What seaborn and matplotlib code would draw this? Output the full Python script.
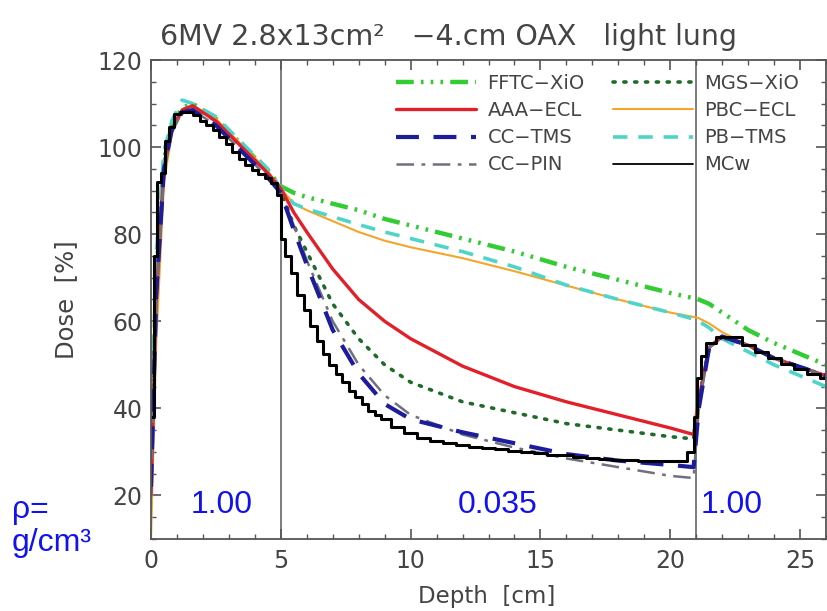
import matplotlib
matplotlib.use("Agg")
import matplotlib.pyplot as plt
import seaborn as sns
import numpy as np

# ---------------- data ----------------
depth = [0, 0.2, 0.5, 0.8, 1.2, 1.6, 2.5, 3.5, 4.5, 5.0, 5.5, 6, 7, 8, 9, 10,
         12, 14, 16, 18, 20, 20.9, 21.1, 21.5, 22, 23, 24, 25, 26]

fftc_xio = [28, 70, 97, 105, 109, 110, 106.5, 100.5, 94.5, 91, 89.5, 88.5, 87, 85.5, 83.5, 82,
            79, 76, 72.5, 69.5, 66.5, 65.3, 65, 64, 62, 58, 55, 52.5, 50]
mgs_xio = [25, 68, 96, 104, 108.5, 109.5, 106, 100, 94, 90, 82, 76, 64, 56, 50, 46,
           41.5, 39, 36.5, 35, 33.5, 33, 42, 54, 56.5, 54.5, 51.5, 49.5, 47.5]
aaa_ecl = [20, 65, 95, 104, 108.5, 109.5, 106, 100, 94, 90.5, 85, 80.5, 72, 65, 60, 56,
           49.7, 45, 41.5, 38.5, 35.5, 34, 42, 54, 56.5, 54.5, 51.5, 49.5, 47.5]
pbc_ecl = [10, 55, 92, 103, 108.5, 109.6, 106.5, 100.5, 94.5, 90.5, 87, 85.5, 83, 80.5, 78.5, 77,
           74.5, 71.5, 68.2, 65, 62, 61, 60.7, 59.5, 57.5, 54.5, 51.5, 49.5, 47.3]
cc_tms = [22, 66, 95, 104, 108, 108.5, 105, 99, 93, 89.5, 81, 73, 58, 48, 41, 37.5,
          34.5, 32, 29.5, 28, 27, 26.5, 40, 54, 56.5, 54.5, 51.5, 49.5, 47.5]
pb_tms = [30, 75, 99, 106, 110.8, 110, 107, 101, 95, 90.5, 87, 85.8, 84, 82.2, 80.5, 79,
          76, 72.5, 68.3, 65, 62, 60.5, 60, 58.5, 56, 53, 50, 47.5, 45]
cc_pin = [20, 64, 94, 103.5, 108, 108.5, 105, 99, 93, 89.5, 82, 74, 60, 50, 43, 38.5,
          34, 31, 28.5, 26.5, 24.5, 24, 40, 54, 56, 54.5, 51.5, 49.5, 47.5]

mcw_depth = [0.05, 0.15, 0.3, 0.45, 0.6, 0.8, 1.0, 1.25, 1.5, 1.75, 2.0, 2.25, 2.5, 2.75,
             3.0, 3.25, 3.5, 3.75, 4.0, 4.25, 4.5, 4.75, 4.95,
             5.05, 5.25, 5.5, 5.75, 6.0, 6.25, 6.5, 6.75, 7.0, 7.25, 7.5, 7.75, 8.0, 8.25,
             8.5, 8.75, 9.0, 9.5, 10, 10.5, 11, 11.5, 12, 12.5, 13, 13.5, 14, 14.5, 15,
             15.5, 16, 16.5, 17, 17.5, 18, 18.5, 19, 19.5, 20, 20.5, 20.8, 21.0, 21.1,
             21.25, 21.5, 22, 22.5, 23, 23.5, 24, 24.5, 25, 25.5, 26]
mcw_dose = [38, 75, 92, 94, 101.5, 104.5, 107.5, 108, 108, 107.3, 106, 105, 104, 102.3,
            100.6, 98.9, 97.3, 96, 94.8, 93.8, 92.8, 91.8, 89,
            79, 75, 71, 66, 62.5, 59, 55.5, 52.5, 50, 48, 46, 44, 42.5, 41,
            39.5, 38.5, 37.5, 35.8, 34.3, 33.3, 32.6, 32, 31.6, 31.2, 30.9, 30.6, 30.3, 30, 29.7,
            29.4, 29.2, 28.9, 28.7, 28.4, 28.2, 28.1, 28, 27.9, 27.8, 28, 30, 38, 47,
            52, 55, 56.5, 56.3, 54.5, 53, 51.5, 50.2, 49, 48, 47]

interfaces = [5, 21]
densities = ["1.00", "0.035", "1.00"]

title = "6MV 2.8x13cm\u00b2   \u22124.cm OAX   light lung"

# ---------------- style ----------------
sns.set_style("ticks")
plt.rcParams['font.family'] = ['DejaVu Sans']
TXT = '#444444'
AX = '#555555'

fig = plt.figure(figsize=(8.27, 6.11), dpi=100)
W, H = 827, 611
L, R, T, B = 151, 826, 60, 539
ax = fig.add_axes([L / W, 1 - B / H, (R - L) / W, (B - T) / H])

series = [
    ("FFTC\u2212XiO", fftc_xio, dict(color='#33cc33', lw=3.2, ls=(0, (4, 1.6, 0.6, 1.6, 0.6, 1.6, 0.6, 1.6)))),
    ("AAA\u2212ECL", aaa_ecl, dict(color='#e3202a', lw=2.4, ls='-')),
    ("CC\u2212TMS", cc_tms, dict(color='#1c1c9c', lw=3.0, ls=(0, (5.5, 3.5)))),
    ("CC\u2212PIN", cc_pin, dict(color='#70707e', lw=1.8, ls=(0, (7, 3, 1.5, 3)))),
    ("MGS\u2212XiO", mgs_xio, dict(color='#1f6b2a', lw=2.6, ls=(0, (0.6, 2.4)), dash_capstyle='round')),
    ("PBC\u2212ECL", pbc_ecl, dict(color='#f4a52a', lw=1.5, ls='-')),
    ("PB\u2212TMS", pb_tms, dict(color='#4fd4c8', lw=2.6, ls=(0, (4, 3)))),
]
draw_order = [0, 4, 5, 6, 1, 3, 2]
handles = {}
for i in draw_order:
    name, vals, kw = series[i]
    sns.lineplot(x=depth, y=vals, ax=ax, label=name, sort=False, **kw)
    handles[name] = ax.get_lines()[-1]

sns.lineplot(x=mcw_depth, y=mcw_dose, ax=ax, label="MCw", sort=False,
             color='black', lw=2.2, drawstyle='steps-mid')
handles["MCw"] = ax.get_lines()[-1]

for xv in interfaces:
    ax.axvline(xv, color='#666666', lw=1.2, zorder=0.5)

ax.set_xlim(0, 26)
ax.set_ylim(10, 120)
ax.set_xticks([0, 5, 10, 15, 20, 25])
ax.set_xticks(np.arange(0, 27, 1), minor=True)
ax.set_yticks([20, 40, 60, 80, 100, 120])
ax.set_yticks(np.arange(10, 121, 5), minor=True)
ax.tick_params(which='both', direction='in', top=True, right=True, colors=AX,
               labelcolor=TXT, labelsize=17)
ax.tick_params(which='major', length=7, width=1.2)
ax.tick_params(which='minor', length=3.5, width=1.0)
ax.tick_params(axis='y', pad=6)
ax.tick_params(axis='x', pad=7)
for s in ax.spines.values():
    s.set_color(AX)
    s.set_linewidth(1.3)
    s.set_visible(True)

ax.set_xlabel("Depth  [cm]", fontsize=16.5, color=TXT, va='center')
ax.xaxis.set_label_coords((487 - L) / (R - L), (B - 596) / (B - T))
ax.set_ylabel("Dose  [%]", fontsize=17.5, color=TXT, va='center')
ax.yaxis.set_label_coords((66 - L) / (R - L), 0.5)

fig.text(448 / W, 1 - 37 / H, title, ha='center', va='center', fontsize=20.5, color=TXT)

order = ["FFTC\u2212XiO", "AAA\u2212ECL", "CC\u2212TMS", "CC\u2212PIN",
         "MGS\u2212XiO", "PBC\u2212ECL", "PB\u2212TMS", "MCw"]
leg = ax.legend([handles[n] for n in order], order, ncol=2, frameon=False,
                loc='upper left', bbox_to_anchor=(396 / W, 1 - 74 / H),
                bbox_transform=fig.transFigure, fontsize=14, handlelength=4.1,
                handletextpad=0.6, columnspacing=1.45, labelspacing=0.42,
                borderpad=0, borderaxespad=0)
for t in leg.get_texts():
    t.set_color(TXT)
for lh in leg.get_lines():
    if lh.get_color() == 'black':
        lh.set_linewidth(1.3)

blue = '#1212ee'
xs_text = [2.73, 13.35, 22.35]
for xv, s in zip(xs_text, densities):
    ax.text(xv, 17.8, s, ha='center', va='center', fontsize=23, color=blue,
            family='Liberation Sans')
fig.text(12 / W, 1 - 510 / H, "\u03c1=", ha='left', va='center', fontsize=23, color=blue,
         family='Liberation Sans')
fig.text(12 / W, 1 - 543 / H, "g/cm\u00b3", ha='left', va='center', fontsize=23, color=blue,
         family='Liberation Sans')

fig.savefig("out.png", dpi=100)
